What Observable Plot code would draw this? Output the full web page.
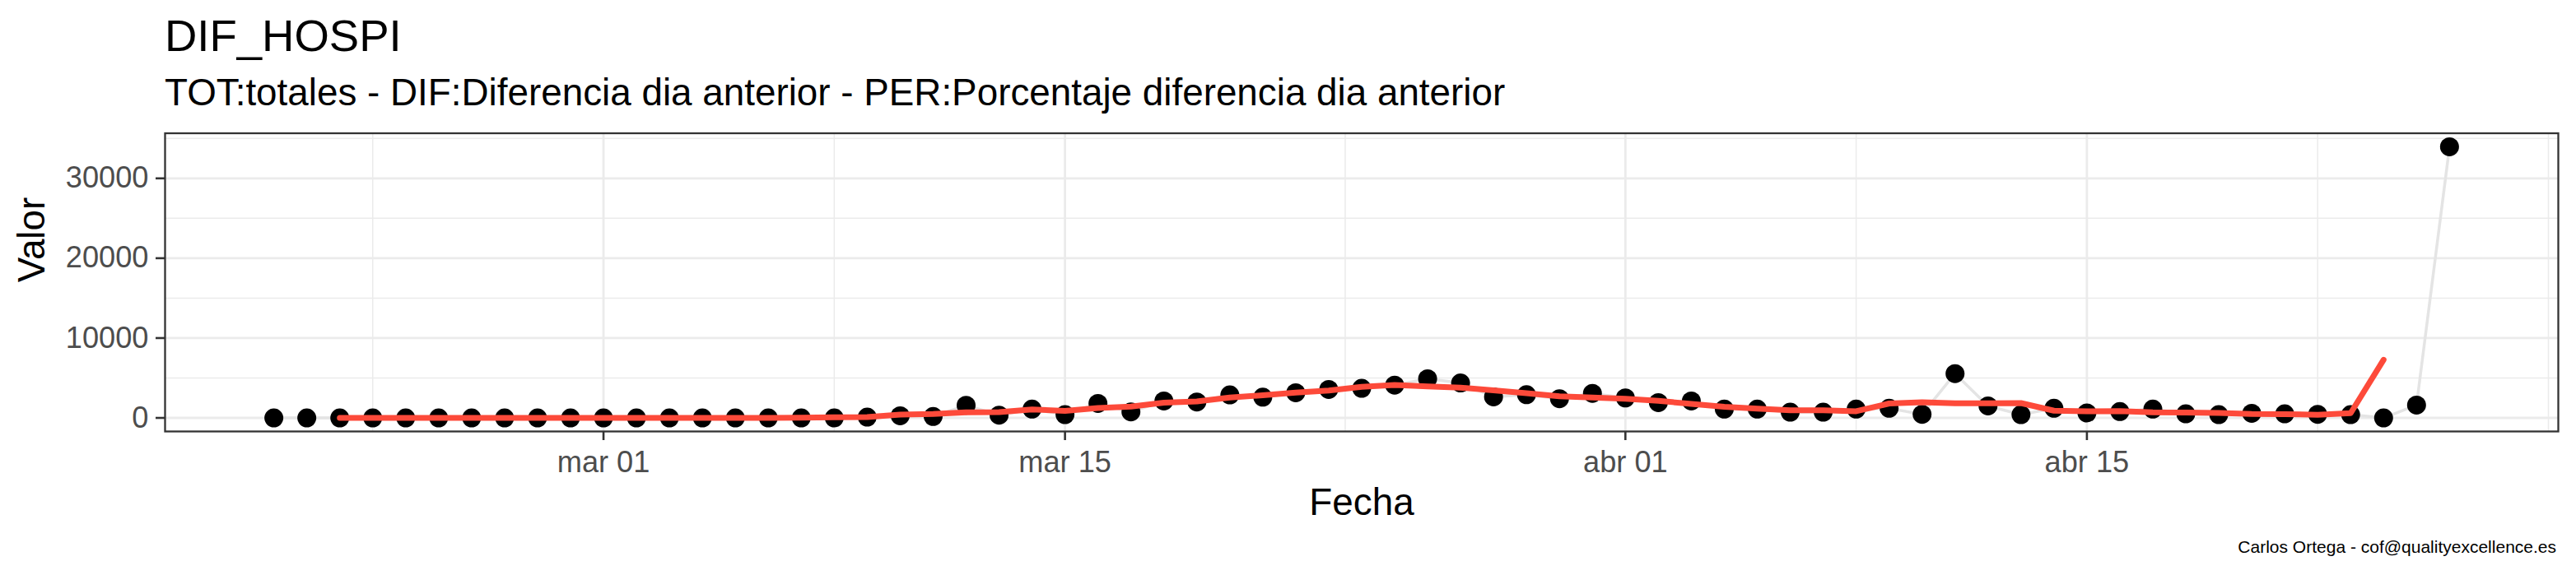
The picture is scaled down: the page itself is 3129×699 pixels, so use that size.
<!DOCTYPE html>
<html>
<head>
<meta charset="utf-8">
<script src="https://cdn.jsdelivr.net/npm/d3@7"></script>
<script src="https://cdn.jsdelivr.net/npm/@observablehq/plot@0.6"></script>
<style>
  body { margin: 0; background: #fff; font-family: "Liberation Sans", Arial, Helvetica, sans-serif; }
  #wrap { position: relative; width: 3129px; height: 699px; overflow: hidden; background: #fff; }
  #title { position: absolute; left: 200px; top: 17px; font-size: 54.5px; line-height: 54.5px; color: #000; white-space: nowrap; }
  #subtitle { position: absolute; left: 200px; top: 90px; font-size: 45.8px; line-height: 45.8px; color: #000; white-space: nowrap; }
  #chart { position: absolute; left: 0; top: 140px; }
  #caption { position: absolute; right: 24px; top: 654px; font-size: 21px; line-height: 21px; color: #000; white-space: nowrap; }
</style>
</head>
<body>
<div id="wrap">
  <div id="title">DIF_HOSPI</div>
  <div id="subtitle">TOT:totales - DIF:Diferencia dia anterior - PER:Porcentaje diferencia dia anterior</div>
  <div id="chart"></div>
  <div id="caption">Carlos Ortega - cof@qualityexcellence.es</div>
</div>
<script>
// ---- data ----
const dates = [
  "2020-02-20","2020-02-21","2020-02-22","2020-02-23","2020-02-24","2020-02-25","2020-02-26","2020-02-27","2020-02-28","2020-02-29",
  "2020-03-01","2020-03-02","2020-03-03","2020-03-04","2020-03-05","2020-03-06","2020-03-07","2020-03-08","2020-03-09","2020-03-10",
  "2020-03-11","2020-03-12","2020-03-13","2020-03-14","2020-03-15","2020-03-16","2020-03-17","2020-03-18","2020-03-19","2020-03-20",
  "2020-03-21","2020-03-22","2020-03-23","2020-03-24","2020-03-25","2020-03-26","2020-03-27","2020-03-28","2020-03-29","2020-03-30",
  "2020-03-31","2020-04-01","2020-04-02","2020-04-03","2020-04-04","2020-04-05","2020-04-06","2020-04-07","2020-04-08","2020-04-09",
  "2020-04-10","2020-04-11","2020-04-12","2020-04-13","2020-04-14","2020-04-15","2020-04-16","2020-04-17","2020-04-18","2020-04-19",
  "2020-04-20","2020-04-21","2020-04-22","2020-04-23","2020-04-24","2020-04-25","2020-04-26"
];
const values = [
  0, 0, 0, 0, 0, 0, 0, 0, 0, 0,
  0, 0, 0, 0, 0, 0, 0, 0, 100, 270,
  170, 1575, 340, 1100, 410, 1815, 750, 2120, 1990, 2880,
  2600, 3150, 3560, 3700, 4110, 4900, 4380, 2640, 2910, 2400,
  3080, 2500, 1920, 2120, 1100, 1100, 720, 720, 1100, 1200,
  445, 5550, 1500, 410, 1200, 620, 790, 1100, 510, 410,
  580, 510, 445, 410, 0, 1610, 33950
];
const xTicks = ["2020-03-01", "2020-03-15", "2020-04-01", "2020-04-15"];
const xTickLabels = ["mar 01", "mar 15", "abr 01", "abr 15"];
const xMinor = ["2020-02-23T00:00", "2020-03-08T00:00", "2020-03-23T12:00", "2020-04-08T00:00", "2020-04-22T00:00", "2020-04-29T00:00"];
const yTicks = [0, 10000, 20000, 30000];
const yMinor = [5000, 15000, 25000, 35000];

// ---- build ----
const parse = s => new Date(s.length === 10 ? s + "T00:00:00Z" : s + ":00Z");
const data = dates.map((d, i) => ({date: parse(d), value: values[i]}));
const xTicksD = xTicks.map(parse);
const xMinorD = xMinor.map(parse);

const xe = d3.extent(data, d => +d.date);
const xs = xe[1] - xe[0];
const xDomain = [new Date(xe[0] - 0.05 * xs), new Date(xe[1] + 0.05 * xs)];
const ye = d3.extent(data, d => d.value);
const ys = ye[1] - ye[0];
const yDomain = [ye[0] - 0.05 * ys, ye[1] + 0.05 * ys];

const FONT = '"Liberation Sans", Arial, Helvetica, sans-serif';
const GRID = "#ebebeb";

const chart = Plot.plot({
  width: 3129,
  height: 500,
  marginLeft: 200,
  marginRight: 22,
  marginTop: 21.5,
  marginBottom: 116,
  style: {fontFamily: FONT, background: "white", overflow: "visible"},
  x: {type: "utc", domain: xDomain},
  y: {type: "linear", domain: yDomain},
  marks: [
    Plot.gridY(yMinor, {stroke: GRID, strokeOpacity: 1, strokeWidth: 1.5}),
    Plot.gridX(xMinorD, {stroke: GRID, strokeOpacity: 1, strokeWidth: 1.5}),
    Plot.gridY(yTicks, {stroke: GRID, strokeOpacity: 1, strokeWidth: 2.8}),
    Plot.gridX(xTicksD, {stroke: GRID, strokeOpacity: 1, strokeWidth: 2.8}),
    Plot.line(data, {x: "date", y: "value", stroke: "#e4e4e4", strokeWidth: 3.5}),
    Plot.dot(data, {x: "date", y: "value", r: 11.5, fill: "#000"}),
    Plot.lineY(data, Plot.windowY({k: 5, anchor: "middle", strict: true},
      {x: "date", y: "value", stroke: "#fd4a3a", strokeWidth: 7})),
    Plot.axisX(xTicksD, {
      anchor: "bottom", tickSize: 11, tickPadding: 12.5,
      tickFormat: d => xTickLabels[xTicksD.findIndex(t => +t === +d)],
      fontSize: 36.2, fill: "#4d4d4d", stroke: "#333333", strokeWidth: 2.6, label: null
    }),
    Plot.axisY(yTicks, {
      anchor: "left", tickSize: 11, tickPadding: 9,
      tickFormat: d3.format("d"),
      fontSize: 36.2, fill: "#4d4d4d", stroke: "#333333", strokeWidth: 2.6, label: null
    }),
    Plot.frame({stroke: "#333333", strokeWidth: 2.3}),
    Plot.text(["Fecha"], {text: d => d, frameAnchor: "bottom", lineAnchor: "bottom", dy: 101, fontSize: 45.8, fill: "#000"}),
    Plot.text(["Valor"], {text: d => d, frameAnchor: "left", rotate: -90, lineAnchor: "bottom", dx: -146.7, fontSize: 45.8, fill: "#000"})
  ]
});
document.getElementById("chart").appendChild(chart);
</script>
</body>
</html>
